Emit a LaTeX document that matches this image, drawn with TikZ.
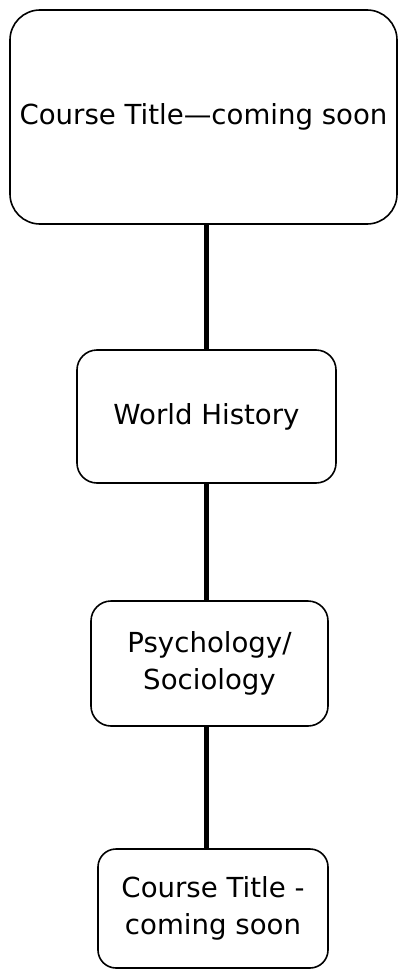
\documentclass[tikz,border=0pt]{standalone}
\usepackage{fontspec}
\setmainfont{DejaVu Sans}
\begin{document}
\begin{tikzpicture}[x=1pt,y=-1pt,
  course/.style={draw=black, line width=1.6pt, fill=white, align=center,
    inner sep=0pt, font=\fontsize{27.6}{37.5}\selectfont},
  link/.style={line width=5pt, black}]
\useasboundingbox (0,0) rectangle (398,971);
\fill[white] (0,0) rectangle (398,971);
% course boxes, top to bottom
\node[course, rounded corners=30pt, minimum width=387pt, minimum height=214pt]
  (top) at (203.5,117) {Course Title—coming soon};
\node[course, rounded corners=20pt, minimum width=259pt, minimum height=133pt]
  (wh) at (206.5,416.5) {World History};
\node[course, rounded corners=20pt, minimum width=237pt, minimum height=125pt]
  (ps) at (209.5,663.5) {Psychology/\\Sociology};
\node[course, rounded corners=18pt, minimum width=230pt, minimum height=119pt]
  (last) at (213,908.5) {Course Title -\\coming soon};
% vertical links
\draw[link] (wh.north |- top.south) -- (wh.north);
\draw[link] (wh.south) -- (wh.south |- ps.north);
\draw[link] (wh.south |- ps.south) -- (wh.south |- last.north);
\end{tikzpicture}
\end{document}
